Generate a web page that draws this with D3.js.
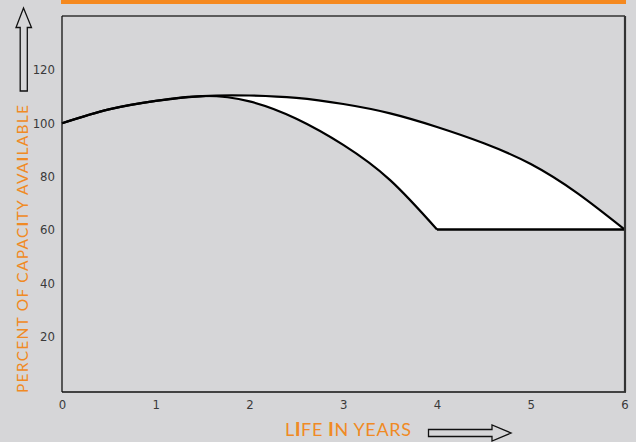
<!DOCTYPE html>
<html><head><meta charset="utf-8">
<script src="https://cdn.jsdelivr.net/npm/d3@7"></script>
<style>
html,body{margin:0;padding:0;background:#d6d6d8;}
svg{display:block;}
</style></head>
<body>
<svg id="c" width="636" height="442"></svg>
<script>
// ---- data ----
const years = [0, 0.5, 1, 1.5, 2, 2.5, 3, 3.5, 4, 4.5, 5, 5.5, 6];
const upperCapacity = [99.8, 105, 108.2, 110, 110.2, 109.3, 107, 103.5, 98.4, 92.3, 84.5, 73.5, 60];
const lowerYears = [0, 0.5, 1, 1.5, 2, 2.5, 3, 3.5, 4];
const lowerCapacity = [99.8, 105, 108.2, 110, 108, 101.5, 91.7, 78.5, 60];
const floorYears = [4, 6];
const floorCapacity = [60, 60];
const xTicks = [0, 1, 2, 3, 4, 5, 6];
const yTicks = [20, 40, 60, 80, 100, 120];
const yTitle = "PERCENT OF CAPACITY AVAILABLE";
const xTitle = "LIFE IN YEARS";

(function () {
const svg = d3.select("#c");
const W = 636, H = 442;
const orange = "#f08a24";
svg.append("rect").attr("width", W).attr("height", H).attr("fill", "#d6d6d8");

const x = d3.scaleLinear().domain([0, 6]).range([62, 624.5]);
const y = d3.scaleLinear().domain([0, 140]).range([389.5, 16]);
const pL = 62, pR = 625, pT = 16, pB = 392;

// orange bar
svg.append("rect").attr("x", 61).attr("y", 0).attr("width", 565).attr("height", 4).attr("fill", "#f5891f");

const up = years.map((d, i) => [d, upperCapacity[i]]);
const lo = lowerYears.map((d, i) => [d, lowerCapacity[i]]);
const fl = floorYears.map((d, i) => [d, floorCapacity[i]]);
const curve = d3.curveNatural;
const area = d3.area().x(d => x(d[0])).y0(pB).y1(d => y(d[1])).curve(curve);
svg.append("path").attr("d", area(up)).attr("fill", "#ffffff");
svg.append("path").attr("d", area(lo)).attr("fill", "#d6d6d8");
svg.append("path").attr("d", d3.area().x(d => x(d[0])).y0(pB).y1(d => y(d[1]))(fl)).attr("fill", "#d6d6d8");

const line = d3.line().x(d => x(d[0])).y(d => y(d[1])).curve(curve);
svg.append("path").attr("d", line(up)).attr("fill", "none").attr("stroke", "#000").attr("stroke-width", 2.2);
svg.append("path").attr("d", line(lo)).attr("fill", "none").attr("stroke", "#000").attr("stroke-width", 2.2);
svg.append("path").attr("d", d3.line().x(d => x(d[0])).y(d => y(d[1]))(fl)).attr("fill", "none").attr("stroke", "#000").attr("stroke-width", 2.4);

// frame
svg.append("line").attr("x1", pL).attr("x2", pR).attr("y1", pT).attr("y2", pT).attr("stroke", "#333").attr("stroke-width", 1.3);
svg.append("line").attr("x1", pL).attr("x2", pL).attr("y1", pT).attr("y2", pB).attr("stroke", "#111").attr("stroke-width", 1.3);
svg.append("line").attr("x1", pL).attr("x2", pR + 1).attr("y1", pB).attr("y2", pB).attr("stroke", "#111").attr("stroke-width", 1.3);
svg.append("line").attr("x1", pR).attr("x2", pR).attr("y1", pT).attr("y2", pB).attr("stroke", "#333").attr("stroke-width", 2.2);

// axes (labels only)
const tickFont = "'Liberation Sans Narrow','DejaVu Sans Condensed','Liberation Sans',Arial,sans-serif";
const xAxis = d3.axisBottom(x).tickValues(xTicks).tickSize(0).tickPadding(0).tickFormat(d3.format("d"));
const gx = svg.append("g").attr("transform", `translate(0,${pB + 5})`).call(xAxis);
gx.select(".domain").remove();
gx.selectAll("text").attr("font-family", tickFont).attr("font-size", 13).attr("fill", "#3a3a3a").attr("dy", "0.9em");

const yAxis = d3.axisLeft(y).tickValues(yTicks).tickSize(0).tickPadding(0).tickFormat(d3.format("d"));
const gy = svg.append("g").attr("transform", `translate(55,0)`).call(yAxis);
gy.select(".domain").remove();
gy.selectAll("text").attr("font-family", tickFont).attr("font-size", 13).attr("fill", "#3a3a3a").attr("dy", "0.35em");

// titles with heavier "I"s
const titleFont = "Lato, 'Open Sans', 'Liberation Sans', sans-serif";
function addTitle(g, str) {
  const t = g.append("text");
  str.split("").forEach(ch => {
    t.append("tspan").text(ch).attr("font-weight", ch === "I" ? 900 : 400);
  });
  return t;
}
addTitle(svg.append("g").attr("transform", "translate(28,393) rotate(-90)"), yTitle)
  .attr("x", 0).attr("y", 0).attr("font-family", titleFont).attr("font-size", 15.5).attr("fill", orange)
  .attr("textLength", 288).attr("lengthAdjust", "spacing");
addTitle(svg.append("g").attr("transform", "translate(285,436)"), xTitle)
  .attr("x", 0).attr("y", 0).attr("font-family", titleFont).attr("font-size", 18).attr("fill", orange)
  .attr("textLength", 126).attr("lengthAdjust", "spacing");

// arrows (outline)
svg.append("path")
  .attr("d", "M23.5,8 L31.5,27.5 L27.3,27.5 L27.3,91 L20.2,91 L20.2,27.5 L16,27.5 Z")
  .attr("fill", "none").attr("stroke", "#111").attr("stroke-width", 1.3);
svg.append("path")
  .attr("d", "M428.5,429.5 L492,429.5 L492,425 L511,433 L492,441 L492,436.5 L428.5,436.5 Z")
  .attr("fill", "none").attr("stroke", "#111").attr("stroke-width", 1.3);
})();
</script>
</body></html>
